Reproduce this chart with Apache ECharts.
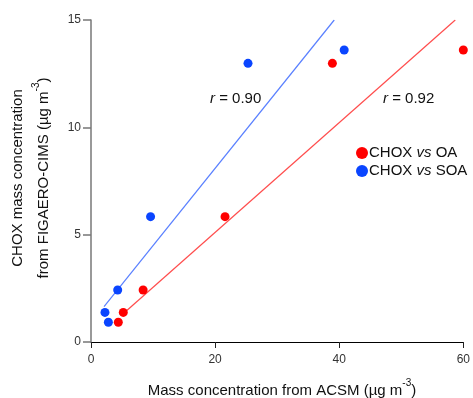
<!DOCTYPE html>
<html>
<head>
<meta charset="utf-8">
<script src="https://cdn.jsdelivr.net/npm/echarts@6/dist/echarts.min.js"></script>
<style>
html,body{margin:0;padding:0;background:#fff;}
#c{width:473px;height:398px;}
</style>
</head>
<body>
<div id="c"></div>
<script>
// Data
const oaX = [4.4, 5.2, 8.4, 21.6, 38.9, 60.0];
const oaY = [0.92, 1.38, 2.42, 5.84, 12.98, 13.6];
const soaX = [2.8, 2.25, 4.3, 9.6, 25.3, 40.8];
const soaY = [0.92, 1.38, 2.42, 5.84, 12.98, 13.6];
const fitOA = [[5.5, 1.4], [58.7, 15]];
const fitSOA = [[2.1, 1.65], [39.2, 15]];
const xTicks = [0, 20, 40, 60];
const yTicks = [0, 5, 10, 15];
const rOA = '0.92';
const rSOA = '0.90';

const FONT = 'Liberation Sans, Arial, sans-serif';
const RED = '#ff0000', BLUE = '#0a45ff';

const chart = echarts.init(document.getElementById('c'), null, {renderer: 'canvas'});
const zip = (a, b) => a.map((v, i) => [v, b[i]]);
const supRich = {
  t: {fontFamily: FONT, fontSize: 15, fill: '#111', lineHeight: 20, verticalAlign: 'bottom'},
  s: {fontFamily: FONT, fontSize: 10, fill: '#111', lineHeight: 10, verticalAlign: 'top'}
};

chart.setOption({
  animation: false,
  backgroundColor: '#fff',
  grid: {left: 91, right: 8, top: 20, bottom: 56},
  xAxis: {
    type: 'value', min: 0, max: 60, interval: 20,
    axisLine: {show: true, lineStyle: {color: '#000', width: 1}},
    axisTick: {show: true, length: 6, lineStyle: {color: '#222'}},
    axisLabel: {color: '#333', fontFamily: FONT, fontSize: 12, margin: 12,
      formatter: v => xTicks.includes(v) ? String(v) : ''},
    splitLine: {show: false}
  },
  yAxis: {
    type: 'value', min: 0, max: 15, interval: 5,
    axisLine: {show: true, lineStyle: {color: '#777', width: 1.5}},
    axisTick: {show: true, length: 8, lineStyle: {color: '#777', width: 1.5}},
    axisLabel: {color: '#333', fontFamily: FONT, fontSize: 12, margin: 10,
      formatter: v => yTicks.includes(v) ? String(v) : ''},
    splitLine: {show: false}
  },
  legend: {
    data: ['CHOX vs OA', 'CHOX vs SOA'],
    orient: 'vertical', left: 351, top: 140,
    icon: 'circle', itemWidth: 12, itemHeight: 12, itemGap: 2,
    textStyle: {
      fontFamily: FONT, fontSize: 15, color: '#111', padding: [0, 0, 0, -4],
      lineHeight: 16,
      rich: {
        a: {fontFamily: FONT, fontSize: 15, color: '#111', lineHeight: 16},
        i: {fontFamily: FONT, fontSize: 15, color: '#111', fontStyle: 'italic', lineHeight: 16}
      }
    },
    formatter: name => {
      const p = name.split(' vs ');
      return '{a|' + p[0] + ' }{i|vs}{a| ' + p[1] + '}';
    }
  },
  series: [
    {name: 'fitOA', type: 'line', data: fitOA, symbol: 'none', silent: true,
      lineStyle: {color: '#ff4d4d', width: 1.2}, z: 1},
    {name: 'fitSOA', type: 'line', data: fitSOA, symbol: 'none', silent: true,
      lineStyle: {color: '#5a80ff', width: 1.2}, z: 1},
    {name: 'CHOX vs OA', type: 'scatter', data: zip(oaX, oaY), symbolSize: 9,
      itemStyle: {color: RED, opacity: 1}, clip: false, z: 3},
    {name: 'CHOX vs SOA', type: 'scatter', data: zip(soaX, soaY), symbolSize: 9,
      itemStyle: {color: BLUE, opacity: 1}, clip: false, z: 3}
  ],
  graphic: [
    {type: 'text', left: 210, top: 91, z: 10, style: {
      text: '{i|r}{n| = ' + rSOA + '}',
      rich: {i: {fontFamily: FONT, fontSize: 15, fontStyle: 'italic', fill: '#111'},
             n: {fontFamily: FONT, fontSize: 15, fill: '#111'}}}},
    {type: 'text', left: 383, top: 91, z: 10, style: {
      text: '{i|r}{n| = ' + rOA + '}',
      rich: {i: {fontFamily: FONT, fontSize: 15, fontStyle: 'italic', fill: '#111'},
             n: {fontFamily: FONT, fontSize: 15, fill: '#111'}}}},
    {type: 'text', x: 282, y: 388, z: 10, style: {
      text: '{t|Mass concentration from ACSM (µg m}{s|-3}{t|)}',
      align: 'center', verticalAlign: 'middle', rich: supRich}},
    {type: 'text', x: 18, y: 178, rotation: Math.PI / 2, z: 10, style: {
      text: 'CHOX mass concentration',
      align: 'center', verticalAlign: 'middle',
      fontFamily: FONT, fontSize: 15, fill: '#111'}},
    {type: 'text', x: 41, y: 178, rotation: Math.PI / 2, z: 10, style: {
      text: '{t|from FIGAERO-CIMS (µg m}{s|-3}{t|)}',
      align: 'center', verticalAlign: 'middle', rich: supRich}}
  ]
});
</script>
</body>
</html>
